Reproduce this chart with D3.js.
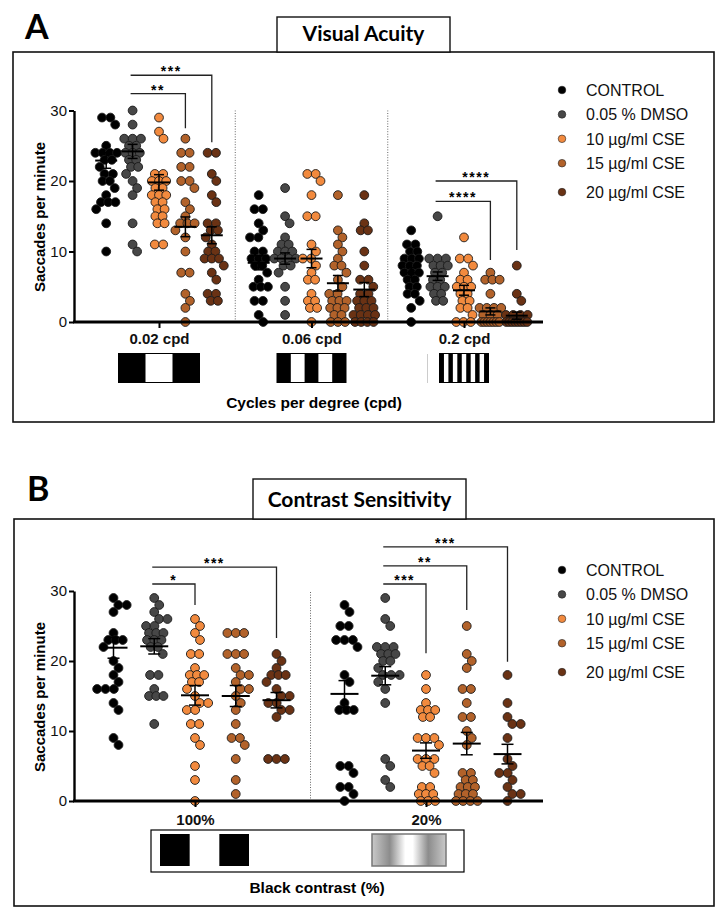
<!DOCTYPE html>
<meta charset="utf-8">
<head>
<title>saccades per minute</title>
<script src="https://d3js.org/d3.v7.min.js"></script>
<style>
  body { margin: 0; background: #fff; }
  text { font-family: "Liberation Sans", Arial, sans-serif; }
</style>
</head>
<body>

<div id="chart"></div>

<script>

const width = 725;
const height = 919;

// groups, in legend order
const series = ["CONTROL", "0.05 % DMSO", "10 µg/ml CSE", "15 µg/ml CSE", "20 µg/ml CSE"];
const colors = ["#000000", "#474747", "#f28a3e", "#b2622a", "#6a3214"];

// ---- A: visual acuity ----
const vaGroups = ["0.02 cpd", "0.06 cpd", "0.2 cpd"];
const vaBars = [3, 5, 11];   // stripes in each grating icon

const va002 = [
  [29, 29, 28, 25, 24, 24, 24, 24, 23, 23, 22, 21, 21, 20, 20, 19, 18, 17, 17, 17, 16, 14, 10],
  [30, 28, 26, 26, 26, 25, 25, 24, 24, 24, 23, 23, 22, 22, 21, 20, 19, 18, 14, 11, 10],
  [29, 27, 26, 21, 21, 20, 20, 20, 19, 19, 18, 18, 18, 17, 17, 16, 16, 15, 15, 14, 14, 11, 11],
  [26, 24, 24, 22, 22, 20, 20, 19, 17, 16, 15, 14, 14, 14, 13, 12, 10, 7, 7, 4, 3, 2, 0],
  [24, 24, 21, 20, 18, 17, 14, 14, 13, 13, 12, 11, 10, 10, 9, 9, 9, 8, 7, 6, 4, 4, 3, 3]
];
const va006 = [
  [18, 16, 16, 14, 13, 12, 12, 10, 10, 9, 9, 9, 8, 8, 7, 6, 5, 5, 5, 3, 3, 1, 0],
  [19, 15, 14, 12, 11, 11, 10, 10, 10, 9, 9, 9, 9, 8, 8, 7, 5, 3, 1],
  [21, 21, 20, 18, 15, 15, 11, 10, 9, 9, 8, 7, 6, 6, 4, 3, 3, 2, 2, 0],
  [18, 13, 12, 11, 10, 9, 8, 8, 7, 6, 5, 4, 4, 3, 3, 3, 2, 2, 2, 1, 1, 0, 0, 0],
  [18, 14, 13, 13, 10, 8, 6, 6, 5, 4, 4, 3, 3, 3, 2, 2, 2, 1, 1, 1, 1, 0, 0, 0, 0]
];
const va02 = [
  [13, 11, 11, 10, 10, 9, 9, 9, 8, 8, 8, 7, 7, 7, 6, 6, 5, 5, 4, 4, 3, 2, 0],
  [15, 9, 9, 9, 8, 8, 8, 7, 7, 6, 6, 5, 5, 5, 4, 4, 3, 3],
  [12, 9, 9, 8, 7, 6, 6, 5, 5, 5, 4, 4, 3, 3, 2, 2, 1, 0, 0, 0],
  [7, 6, 6, 6, 4, 2, 2, 2, 2, 1, 1, 1, 0, 0, 0, 0, 0, 0, 0],
  [8, 4, 3, 1, 1, 1, 1, 0, 0, 0, 0, 0, 0, 0, 0]
];
const vaMeans = [[22.9, 24.2, 19.8, 13.5, 12.3], [8.4, 9.0, 9.0, 5.5, 4.6], [7.0, 6.5, 4.5, 1.5, 0.9]];
const vaSems  = [[1.1, 1.0, 1.1, 1.4, 1.2], [1.0, 0.8, 1.3, 1.1, 1.0], [0.7, 0.6, 0.7, 0.5, 0.5]];
const vaSig = [
  { group: 0, from: 1, to: 4, top: 35.0, drop: 25.5, label: "***" },
  { group: 0, from: 1, to: 3, top: 32.4, drop: 27.5, label: "**" },
  { group: 2, from: 1, to: 4, top: 20.0, drop: 10.2, label: "****" },
  { group: 2, from: 1, to: 3, top: 17.1, drop: 8.8, label: "****" }
];

// ---- B: contrast sensitivity ----
const csGroups = ["100%", "20%"];
const cs100 = [
  [29, 28, 28, 27, 24, 23, 23, 23, 22, 20, 19, 18, 17, 16, 16, 16, 14, 13, 9, 8],
  [29, 28, 27, 26, 26, 25, 25, 24, 24, 24, 23, 23, 23, 22, 22, 21, 18, 18, 16, 15, 15, 15, 11],
  [26, 25, 24, 23, 21, 21, 19, 18, 18, 18, 17, 17, 16, 15, 14, 14, 13, 13, 11, 11, 9, 8, 5, 3, 0],
  [24, 24, 24, 21, 21, 21, 19, 18, 18, 17, 16, 16, 15, 14, 13, 11, 9, 9, 8, 6, 3, 1],
  [21, 20, 19, 18, 18, 18, 17, 16, 15, 15, 14, 14, 13, 13, 12, 6, 6, 6]
];
const cs20 = [
  [28, 27, 25, 25, 23, 23, 23, 22, 18, 17, 14, 13, 13, 13, 5, 5, 4, 2, 2, 1, 0],
  [29, 26, 25, 22, 22, 22, 21, 21, 21, 20, 20, 19, 18, 18, 18, 17, 16, 14, 6, 5, 3, 2],
  [18, 16, 14, 13, 13, 13, 12, 12, 9, 9, 9, 8, 6, 6, 6, 5, 5, 4, 2, 2, 1, 1, 1, 0, 0, 0],
  [25, 21, 20, 19, 16, 16, 14, 12, 12, 10, 9, 8, 4, 4, 3, 3, 2, 2, 2, 1, 1, 1, 0, 0, 0, 0],
  [18, 14, 12, 11, 11, 9, 6, 5, 4, 4, 3, 2, 1, 1, 0]
];
const csMeans = [[21.9, 22.1, 15.1, 15.0, 14.4], [15.3, 17.9, 7.2, 8.2, 6.7]];
const csSems  = [[1.5, 1.1, 1.4, 1.5, 1.1], [1.9, 1.3, 1.1, 1.6, 1.4]];
const csSig = [
  { group: 0, from: 1, to: 2, top: 31.0, drop: 28.0, label: "*" },
  { group: 0, from: 1, to: 4, top: 33.4, drop: 23.3, label: "***" },
  { group: 1, from: 1, to: 2, top: 31.0, drop: 21.1, label: "***" },
  { group: 1, from: 1, to: 3, top: 33.6, drop: 27.3, label: "**" },
  { group: 1, from: 1, to: 4, top: 36.3, drop: 19.9, label: "***" }
];

const yTicks = [0, 10, 20, 30];
const R = 4.4;

const svg = d3.select('#chart')
  .append("svg")
  .attr("width", width)
  .attr("height", height)
  .attr("viewBox", [0, 0, width, height]);

const defs = svg.append("defs");
const grad = defs.append("linearGradient").attr("id", "lowContrast");
[[0, "#c9c9c9"], [0.24, "#8c8c8c"], [0.45, "#ffffff"], [0.55, "#ffffff"], [0.76, "#8c8c8c"], [1, "#c9c9c9"]]
  .forEach(([o, c]) => grad.append("stop").attr("offset", o).attr("stop-color", c));

// scatter layout: tied values sit in a centred row, the row slides sideways
// until it clears the rows above; dots squeeze together when the column is full
function swarm(values, cx, y, maxOff) {
  const placed = [];
  const rows = d3.groups(values, d => d).sort((a, b) => b[0] - a[0]);
  rows.forEach(([v, arr]) => {
    const n = arr.length, py = y(v);
    let done = false;
    for (const f of [0.95, 0.82, 0.7, 0.58, 0.46, 0.34, 0.2]) {
      const step = 2 * R * f;
      const half = (n - 1) / 2 * step;
      for (let k = 0; k < 200; k++) {
        const c = (k % 2 ? 1 : -1) * Math.ceil(k / 2) * 0.5;
        if (Math.abs(c) + half > maxOff) {
          if (Math.ceil(k / 2) * 0.5 + half > maxOff) break;
          continue;
        }
        const xs = d3.range(n).map(i => cx + c + (i - (n - 1) / 2) * step);
        if (xs.every(px => placed.every(p => Math.hypot(p.x - px, p.y - py) >= step))) {
          xs.forEach(px => placed.push({ x: px, y: py, v }));
          done = true;
          break;
        }
      }
      if (done) break;
    }
    if (!done) {
      const step = 2 * R * 0.2;
      d3.range(n).forEach(i => placed.push({ x: cx + (i - (n - 1) / 2) * step, y: py, v }));
    }
  });
  return placed;
}

function panel(o) {
  const y = d3.scaleLinear().domain([0, 30]).range(o.yRange);
  const xg = d3.scalePoint().domain(o.groups).range(o.groupRange);
  const xs = d3.scalePoint().domain(series).range(o.offRange);
  const g = svg.append("g");

  // frame and title tab
  g.append("rect")
    .attr("x", o.frame[0]).attr("y", o.frame[1])
    .attr("width", o.frame[2] - o.frame[0]).attr("height", o.frame[3] - o.frame[1])
    .attr("fill", "none").attr("stroke", "#111").attr("stroke-width", 1.6);
  g.append("rect")
    .attr("x", o.tab[0]).attr("y", o.tab[1])
    .attr("width", o.tab[2] - o.tab[0]).attr("height", o.frame[1] - o.tab[1])
    .attr("fill", "#fff").attr("stroke", "#111").attr("stroke-width", 1.4);
  g.append("text")
    .attr("x", (o.tab[0] + o.tab[2]) / 2).attr("y", o.tab[1] + o.titleDy)
    .attr("text-anchor", "middle")
    .style("font-family", "Lato, 'Open Sans', sans-serif")
    .attr("font-weight", 700).attr("font-size", 21)
    .text(o.title);
  g.append("text")
    .attr("x", o.letter[0]).attr("y", o.letter[1])
    .style("font-family", "Lato, 'Open Sans', sans-serif")
    .attr("font-weight", 700).attr("font-size", 34)
    .text(o.letterText);

  // dotted separators between groups
  const mids = d3.pairs(o.groups.map(d => xg(d))).map(([a, b]) => (a + b) / 2);
  g.selectAll("line.sep").data(mids).join("line")
    .attr("x1", d => d).attr("x2", d => d)
    .attr("y1", y(0)).attr("y2", y(30))
    .attr("stroke", "#666").attr("stroke-width", 1)
    .attr("stroke-dasharray", "1,1.6");

  // y axis
  g.append("g")
    .attr("transform", `translate(${o.axisX[0]},0)`)
    .call(d3.axisLeft(y).tickValues(yTicks).tickSize(5).tickSizeOuter(0).tickPadding(2))
    .call(a => {
      a.attr("font-size", 15).attr("font-family", "'Liberation Sans', Arial, sans-serif");
      a.select(".domain").attr("stroke-width", 2.4);
      a.selectAll(".tick line").attr("stroke-width", 2);
      a.selectAll(".tick text").attr("fill", "#111");
    });
  g.append("text")
    .attr("transform", `translate(${o.yLabel[0]},${o.yLabel[1]}) rotate(-90)`)
    .attr("text-anchor", "middle")
    .attr("font-weight", 700).attr("font-size", 15)
    .text("Saccades per minute");

  // dots
  o.groups.forEach((grp, gi) => {
    series.forEach((s, si) => {
      const pts = swarm(o.values[gi][si], xg(grp) + xs(s), y, o.maxOff);
      g.append("g").selectAll("circle").data(pts).join("circle")
        .attr("cx", d => d.x).attr("cy", d => d.y).attr("r", R)
        .attr("fill", colors[si])
        .attr("stroke", "#1a1a1a").attr("stroke-width", 0.9);
    });
  });

  // x axis
  g.append("line")
    .attr("x1", o.axisX[0] - 1).attr("x2", o.axisX[1])
    .attr("y1", y(0)).attr("y2", y(0))
    .attr("stroke", "#000").attr("stroke-width", 2.8);
  g.append("g")
    .attr("transform", `translate(0,${y(0)})`)
    .call(d3.axisBottom(xg).tickSize(6).tickPadding(o.xPad))
    .call(a => {
      a.select(".domain").remove();
      a.attr("font-size", 15).attr("font-weight", 700)
        .attr("font-family", "'Liberation Sans', Arial, sans-serif");
      a.selectAll(".tick line").attr("stroke-width", 2);
      a.selectAll(".tick text").attr("fill", "#111");
    });

  // mean and SEM
  o.groups.forEach((grp, gi) => {
    series.forEach((s, si) => {
      const cx = xg(grp) + xs(s);
      const m = o.means[gi][si], e = o.sems[gi][si];
      const eb = g.append("g").attr("stroke", "#000").attr("stroke-width", 2);
      eb.append("line").attr("x1", cx - o.meanHalf).attr("x2", cx + o.meanHalf)
        .attr("y1", y(m)).attr("y2", y(m));
      eb.append("line").attr("x1", cx).attr("x2", cx)
        .attr("y1", y(m - e)).attr("y2", y(m + e)).attr("stroke-width", 1.5);
      [m - e, m + e].forEach(v => eb.append("line")
        .attr("x1", cx - o.capHalf).attr("x2", cx + o.capHalf)
        .attr("y1", y(v)).attr("y2", y(v)).attr("stroke-width", 1.5));
    });
  });

  // significance brackets
  o.sig.forEach(b => {
    const x1 = xg(o.groups[b.group]) + xs(series[b.from]) - 2;
    const x2 = xg(o.groups[b.group]) + xs(series[b.to]);
    g.append("path")
      .attr("d", `M${x1},${y(b.top)}H${x2}V${y(b.drop)}`)
      .attr("fill", "none").attr("stroke", "#222").attr("stroke-width", 1.3);
    g.append("text")
      .attr("x", (x1 + x2) / 2).attr("y", y(b.top) + 1)
      .attr("text-anchor", "middle")
      .attr("font-size", 14).attr("font-weight", 700)
      .attr("letter-spacing", 1.5)
      .text(b.label);
  });

  // legend
  const leg = g.append("g").selectAll("g").data(series).join("g")
    .attr("transform", (d, i) => `translate(${o.legend[0]},${o.legend[1] + i * 24.4 + (i === 4 ? 4.5 : 0)})`);
  leg.append("circle").attr("r", 3.8).attr("fill", (d, i) => colors[i])
    .attr("stroke", "#222").attr("stroke-width", 0.6);
  leg.append("text").attr("x", 24).attr("y", 5.8)
    .attr("font-size", 16).attr("fill", "#111")
    .text(d => d);

  // axis title
  g.append("text")
    .attr("x", o.xTitle[0]).attr("y", o.xTitle[1])
    .attr("text-anchor", "middle")
    .attr("font-weight", 700).attr("font-size", 15.5)
    .text(o.xTitleText);

  return { g, xg, y };
}

// ---- panel A ----
const A = panel({
  groups: vaGroups, values: [va002, va006, va02], means: vaMeans, sems: vaSems, sig: vaSig,
  yRange: [322, 110.5], groupRange: [159, 464], offRange: [-52.8, 52.8], maxOff: 12,
  axisX: [74, 543], xPad: 5, meanHalf: 11, capHalf: 5,
  frame: [13, 52, 714, 422], tab: [277, 17, 450], titleDy: 24, title: "Visual Acuity",
  letter: [25, 39], letterText: "A", yLabel: [45, 217], legend: [562, 90],
  xTitle: [314, 408], xTitleText: "Cycles per degree (cpd)"
});

// grating icons under each spatial frequency
const gratingW = [81, 69, 49];
vaGroups.forEach((grp, gi) => {
  const cx = A.xg(grp), w = gratingW[gi], n = vaBars[gi];
  const bx = d3.scaleLinear().domain([0, n]).range([cx - w / 2, cx + w / 2]);
  const ic = A.g.append("g");
  ic.append("rect").attr("x", cx - w / 2).attr("y", 353.5).attr("width", w).attr("height", 29)
    .attr("fill", "#fff").attr("stroke", "#000").attr("stroke-width", 1);
  ic.selectAll("rect.bar").data(d3.range(0, n, 2)).join("rect")
    .attr("x", d => bx(d)).attr("y", 353.5)
    .attr("width", bx(1) - bx(0)).attr("height", 29).attr("fill", "#000");
  if (gi === 2) {
    ic.append("line").attr("x1", cx - w / 2 - 12).attr("x2", cx - w / 2 - 12)
      .attr("y1", 354).attr("y2", 383).attr("stroke", "#ccc").attr("stroke-width", 1);
  }
});

// ---- panel B ----
const B = panel({
  groups: csGroups, values: [cs100, cs20], means: csMeans, sems: csSems, sig: csSig,
  yRange: [801, 591], groupRange: [195, 426], offRange: [-81.5, 81.5], maxOff: 17,
  axisX: [74, 543], xPad: 7, meanHalf: 14, capHalf: 6,
  frame: [14, 519, 714, 906], tab: [253, 479, 466], titleDy: 28, title: "Contrast Sensitivity",
  letter: [27, 501], letterText: "B", yLabel: [45, 697], legend: [562, 570],
  xTitle: [317, 893], xTitleText: "Black contrast (%)"
});

// contrast stimulus strip
const st = B.g.append("g");
st.append("rect").attr("x", 151).attr("y", 830).attr("width", 313).attr("height", 42)
  .attr("fill", "#fff").attr("stroke", "#000").attr("stroke-width", 1.2);
const sb = d3.scaleLinear().domain([0, 3]).range([160, 249]);
st.selectAll("rect.bar").data([0, 2]).join("rect")
  .attr("x", d => sb(d)).attr("y", 834).attr("width", sb(1) - sb(0)).attr("height", 32)
  .attr("fill", "#000");
st.append("rect").attr("x", 372).attr("y", 834).attr("width", 74).attr("height", 32)
  .attr("fill", "url(#lowContrast)").attr("stroke", "#777").attr("stroke-width", 1.5);

</script>

</body>
